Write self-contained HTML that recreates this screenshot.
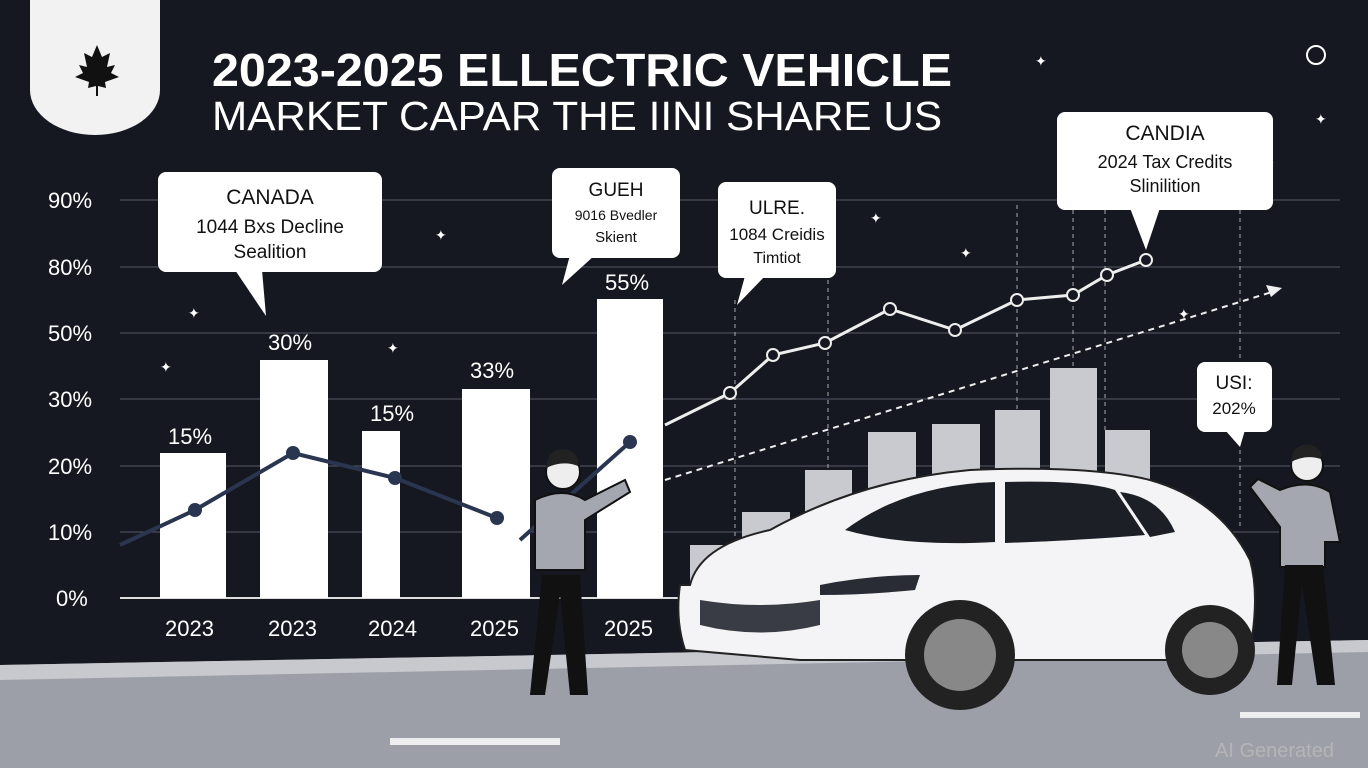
<!DOCTYPE html>
<html><head><meta charset="utf-8"><style>
html,body{margin:0;padding:0;background:#161821;}
svg{display:block}
text{font-family:"Liberation Sans",sans-serif;}
</style></head><body>
<svg width="1368" height="768" viewBox="0 0 1368 768" xmlns="http://www.w3.org/2000/svg">
<rect width="1368" height="768" fill="#161821"/>
<!-- badge -->
<path d="M30 0 H160 V90 A65 45 0 0 1 30 90 Z" fill="#f2f2f2"/>
<path d="M97 45 l5 12 8-4 -3 14 8-2 -4 8 8 4 -14 5 1 6 -8-2 v10 h-2 v-10 l-8 2 1-6 -14-5 8-4 -4-8 8 2 -3-14 8 4z" fill="#111"/>
<!-- title -->
<text x="212" y="86" fill="#fff" font-size="46" font-weight="bold" textLength="740" lengthAdjust="spacingAndGlyphs">2023-2025 ELLECTRIC VEHICLE</text>
<text x="212" y="130" fill="#fff" font-size="41" textLength="730" lengthAdjust="spacingAndGlyphs">MARKET CAPAR THE IINI SHARE US</text>
<!-- stars -->
<g fill="#fff" font-size="14">
<text x="1035" y="66">✦</text><text x="1315" y="124">✦</text><text x="435" y="240">✦</text><text x="960" y="258">✦</text><text x="1178" y="319">✦</text><text x="188" y="318">✦</text><text x="387" y="353">✦</text><text x="160" y="372">✦</text><text x="870" y="223">✦</text><text x="1263" y="168">✦</text>
</g>
<circle cx="1316" cy="55" r="9" fill="none" stroke="#fff" stroke-width="2"/>
<!-- grid -->
<g stroke="#555a66" stroke-width="1">
<line x1="120" y1="200" x2="1340" y2="200"/><line x1="120" y1="267" x2="1340" y2="267"/>
<line x1="120" y1="333" x2="1340" y2="333"/><line x1="120" y1="399" x2="1340" y2="399"/>
<line x1="120" y1="466" x2="1340" y2="466"/><line x1="120" y1="532" x2="1340" y2="532"/>
</g>
<line x1="120" y1="598" x2="680" y2="598" stroke="#ddd" stroke-width="2"/>
<g fill="#fff" font-size="22">
<text x="48" y="208">90%</text><text x="48" y="275">80%</text><text x="48" y="341">50%</text>
<text x="48" y="407">30%</text><text x="48" y="474">20%</text><text x="48" y="540">10%</text><text x="56" y="606">0%</text>
</g>
<!-- vertical dashed -->
<g stroke="#aaa" stroke-dasharray="4 4">
<line x1="735" y1="300" x2="735" y2="545"/><line x1="828" y1="280" x2="828" y2="470"/>
<line x1="1017" y1="205" x2="1017" y2="410"/><line x1="1073" y1="210" x2="1073" y2="368"/>
<line x1="1105" y1="210" x2="1105" y2="430"/><line x1="1240" y1="210" x2="1240" y2="530"/>
</g>
<!-- grey bars -->
<g fill="#c9cad0">
<rect x="690" y="545" width="45" height="60"/><rect x="742" y="512" width="48" height="90"/>
<rect x="805" y="470" width="47" height="130"/><rect x="868" y="432" width="48" height="170"/>
<rect x="932" y="424" width="48" height="170"/><rect x="995" y="410" width="45" height="190"/>
<rect x="1050" y="368" width="47" height="230"/><rect x="1105" y="430" width="45" height="170"/>
</g>
<!-- white bars -->
<g fill="#fff">
<rect x="160" y="453" width="66" height="145"/><rect x="260" y="360" width="68" height="238"/>
<rect x="362" y="431" width="38" height="167"/><rect x="462" y="389" width="68" height="209"/>
<rect x="597" y="299" width="66" height="299"/>
</g>
<g fill="#fff" font-size="22">
<text x="168" y="444">15%</text><text x="268" y="350">30%</text><text x="370" y="421">15%</text>
<text x="470" y="378">33%</text><text x="605" y="290">55%</text>
<text x="165" y="636">2023</text><text x="268" y="636">2023</text><text x="368" y="636">2024</text>
<text x="470" y="636">2025</text><text x="604" y="636">2025</text>
</g>
<!-- dark line -->
<polyline points="120,545 195,510 293,453 395,478 497,518" fill="none" stroke="#2a3550" stroke-width="4"/>
<g fill="#2a3550"><circle cx="195" cy="510" r="7"/><circle cx="293" cy="453" r="7"/><circle cx="395" cy="478" r="7"/><circle cx="497" cy="518" r="7"/><circle cx="630" cy="442" r="7"/></g>
<polyline points="520,540 630,442" fill="none" stroke="#2a3550" stroke-width="4"/>
<!-- white line -->
<polyline points="665,425 730,393 773,355 825,343 890,309 955,330 1017,300 1073,295 1107,275 1146,260" fill="none" stroke="#eee" stroke-width="3"/>
<g fill="#161821" stroke="#eee" stroke-width="2">
<circle cx="730" cy="393" r="6"/><circle cx="773" cy="355" r="6"/><circle cx="825" cy="343" r="6"/><circle cx="890" cy="309" r="6"/><circle cx="955" cy="330" r="6"/><circle cx="1017" cy="300" r="6"/><circle cx="1073" cy="295" r="6"/><circle cx="1107" cy="275" r="6"/><circle cx="1146" cy="260" r="6"/>
</g>
<line x1="665" y1="480" x2="1272" y2="292" stroke="#eee" stroke-width="2" stroke-dasharray="6 5"/>
<path d="M1282 288 l-16 -3 5 12z" fill="#eee"/>
<!-- callouts -->
<g fill="#fff">
<rect x="158" y="172" width="224" height="100" rx="8"/><path d="M235 270 L266 316 L262 270z"/>
<rect x="552" y="168" width="128" height="90" rx="8"/><path d="M570 255 L562 285 L595 255z"/>
<rect x="718" y="182" width="118" height="96" rx="8"/><path d="M745 276 L737 305 L765 276z"/>
<rect x="1057" y="112" width="216" height="98" rx="8"/><path d="M1130 208 L1146 250 L1160 208z"/>
<rect x="1197" y="362" width="75" height="70" rx="8"/><path d="M1225 430 L1240 447 L1245 430z"/>
</g>
<g fill="#111" text-anchor="middle">
<text x="270" y="204" font-size="21">CANADA</text><text x="270" y="233" font-size="19">1044 Bxs Decline</text><text x="270" y="258" font-size="19">Sealition</text>
<text x="616" y="196" font-size="19">GUEH</text><text x="616" y="220" font-size="14">9016 Bvedler</text><text x="616" y="242" font-size="15">Skient</text>
<text x="777" y="214" font-size="19">ULRE.</text><text x="777" y="240" font-size="17">1084 Creidis</text><text x="777" y="263" font-size="16">Timtiot</text>
<text x="1165" y="140" font-size="21">CANDIA</text><text x="1165" y="168" font-size="18">2024 Tax Credits</text><text x="1165" y="192" font-size="18">Slinilition</text>
<text x="1234" y="389" font-size="19">USI:</text><text x="1234" y="414" font-size="17">202%</text>
</g>
<!-- road -->
<path d="M0 665 L1368 640 L1368 768 L0 768z" fill="#9d9fa8"/>
<path d="M0 665 L1368 640 L1368 652 L0 680z" fill="#c8c9ce"/>
<rect x="390" y="738" width="170" height="7" fill="#eee"/>
<rect x="1240" y="712" width="120" height="6" fill="#eee"/>
<!-- person 1 -->
<circle cx="563" cy="472" r="17" fill="#eee" stroke="#111" stroke-width="2"/>
<path d="M546 468 q2-22 22-18 q12 4 10 16 q-15-6-32 2z" fill="#222"/>
<path d="M535 500 q28-14 50 0 l40-20 5 12 -45 28 v50 h-50 z" fill="#a4a7b0" stroke="#111" stroke-width="2"/>
<path d="M542 575 l-12 120 h15 l15-100 10 100 h18 l-8-120z" fill="#111"/>
<!-- person 2 -->
<circle cx="1307" cy="465" r="16" fill="#eee" stroke="#111" stroke-width="2"/>
<path d="M1291 462 q2-20 20-17 q12 4 10 14 q-15-5-30 3z" fill="#222"/>
<path d="M1280 490 q28-12 50 2 l10 50 h-15 v25 h-45 v-40 l-30-40 8-8z" fill="#a4a7b0" stroke="#111" stroke-width="2"/>
<path d="M1285 565 l-8 120 h15 l10-100 15 100 h18 l-12-120z" fill="#111"/>
<!-- car -->
<path d="M690 585 q10-40 80-55 q90-50 200-60 q120-5 180 10 q70 20 100 80 q10 35 0 90 l-60 10 H800 l-115-10 q-10-30 -5-65z" fill="#f4f4f6" stroke="#222" stroke-width="2"/>
<path d="M845 530 q60-45 150-48 l0 60 q-90 5 -150 -12z" fill="#1d1f27"/>
<path d="M1005 482 q80-2 110 8 l30 45 q-60 5 -140 8z" fill="#1d1f27"/>
<path d="M1120 492 q40 5 55 40 l-25 5z" fill="#1d1f27"/>
<path d="M820 585 q50-10 100-10 l-5 15 q-50 5 -95 5z" fill="#2a2c35"/>
<path d="M700 600 q60 10 120 0 l0 25 q-60 15 -120 0z" fill="#3a3c45"/>
<circle cx="960" cy="655" r="55" fill="#222"/><circle cx="960" cy="655" r="36" fill="#888"/>
<circle cx="1210" cy="650" r="45" fill="#222"/><circle cx="1210" cy="650" r="28" fill="#888"/>
<text x="1215" y="757" fill="#bbb" font-size="20" opacity="0.8">AI Generated</text>
</svg>
</body></html>
